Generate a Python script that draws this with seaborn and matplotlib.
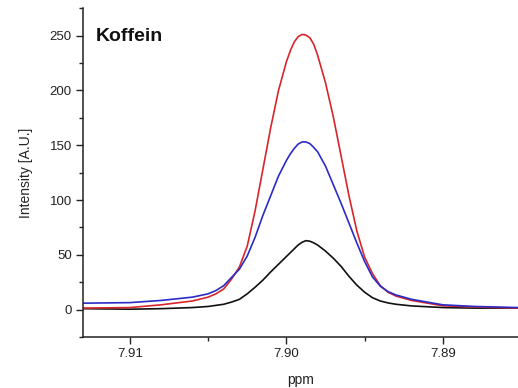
import matplotlib
matplotlib.use("Agg")
import matplotlib.pyplot as plt
from matplotlib.ticker import MultipleLocator, FormatStrFormatter
import pandas as pd
import seaborn as sns

# ── Data (ppm vs intensity) ────────────────────────────────
ppm = [7.9130, 7.9100, 7.9080, 7.9060, 7.9050, 7.9045, 7.9040, 7.9035,
       7.9030, 7.9025, 7.9020, 7.9015, 7.9010, 7.9005, 7.9000, 7.89975,
       7.8995, 7.89925, 7.8990, 7.89875, 7.8985, 7.89825, 7.8980, 7.8975,
       7.8970, 7.8965, 7.8960, 7.8955, 7.8950, 7.8945, 7.8940, 7.8935,
       7.8930, 7.8920, 7.8900, 7.8880, 7.8852]

red = [1.5, 2, 4.5, 8, 11.5, 14.5, 19, 28,
       39, 58, 90, 128, 166, 200, 226, 236,
       244, 249, 251, 250.5, 248, 242, 232, 207,
       176, 140, 104, 72, 48, 33, 22, 16,
       12.5, 8.5, 3.6, 2.5, 1.5]

blue = [6, 6.5, 8.5, 11.5, 14.5, 17.5, 22, 29.5,
        37, 49, 66, 86, 104, 122, 136, 142,
        147, 151, 153, 153, 151.5, 148, 144, 131,
        114, 97, 79, 61, 44, 30, 21.5, 16.5,
        13.5, 9.5, 4.5, 3, 2]

black = [1, 0.5, 1, 2, 3, 4, 5, 7,
         9.5, 14.5, 20.5, 27, 34.5, 41.5, 48.5, 52,
         55.5, 59, 61.5, 63, 62.5, 61, 59, 53.5,
         47, 39.5, 30.5, 22.5, 16, 11, 8, 6.2,
         5, 3.5, 2, 1.5, 1.5]

series_names = ["black", "red", "blue"]
colors = {"black": "#111111", "red": "#d7262b", "blue": "#2b2bc8"}

df = pd.concat([
    pd.DataFrame({"ppm": ppm, "intensity": black, "series": "black"}),
    pd.DataFrame({"ppm": ppm, "intensity": red, "series": "red"}),
    pd.DataFrame({"ppm": ppm, "intensity": blue, "series": "blue"}),
], ignore_index=True)

sns.set_style("ticks")
plt.rcParams["font.family"] = ["Liberation Sans", "DejaVu Sans"]

fig = plt.figure(figsize=(5.18, 3.88), dpi=100)
ax = fig.add_axes([0.160, 0.131, 0.840, 0.848])

sns.lineplot(data=df, x="ppm", y="intensity", hue="series",
             hue_order=series_names, palette=colors, sort=False,
             linewidth=1.2, legend=False, ax=ax)

ax.set_xlim(7.9130, 7.8852)
ax.set_ylim(-25, 275)
ax.xaxis.set_major_locator(MultipleLocator(0.01))
ax.xaxis.set_minor_locator(MultipleLocator(0.005))
ax.xaxis.set_major_formatter(FormatStrFormatter("%.2f"))
ax.yaxis.set_major_locator(MultipleLocator(50))
ax.yaxis.set_minor_locator(MultipleLocator(25))

ax.tick_params(axis="both", which="major", direction="out", length=5,
               width=1.0, labelsize=9.5, colors="#222222", pad=3)
ax.tick_params(axis="both", which="minor", direction="out", length=3,
               width=1.0)

for side in ["top", "right"]:
    ax.spines[side].set_visible(False)
for side in ["left", "bottom"]:
    ax.spines[side].set_linewidth(1.1)
    ax.spines[side].set_color("#222222")

ax.set_xlabel("ppm", fontsize=10, labelpad=9, color="#222222")
ax.set_ylabel("Intensity [A.U.]", fontsize=10, labelpad=12, color="#222222")

ax.text(0.03, 0.9, "Koffein", transform=ax.transAxes, fontsize=14,
        fontweight="bold", color="#111111", va="baseline", ha="left")

fig.savefig("out.png", dpi=100)
